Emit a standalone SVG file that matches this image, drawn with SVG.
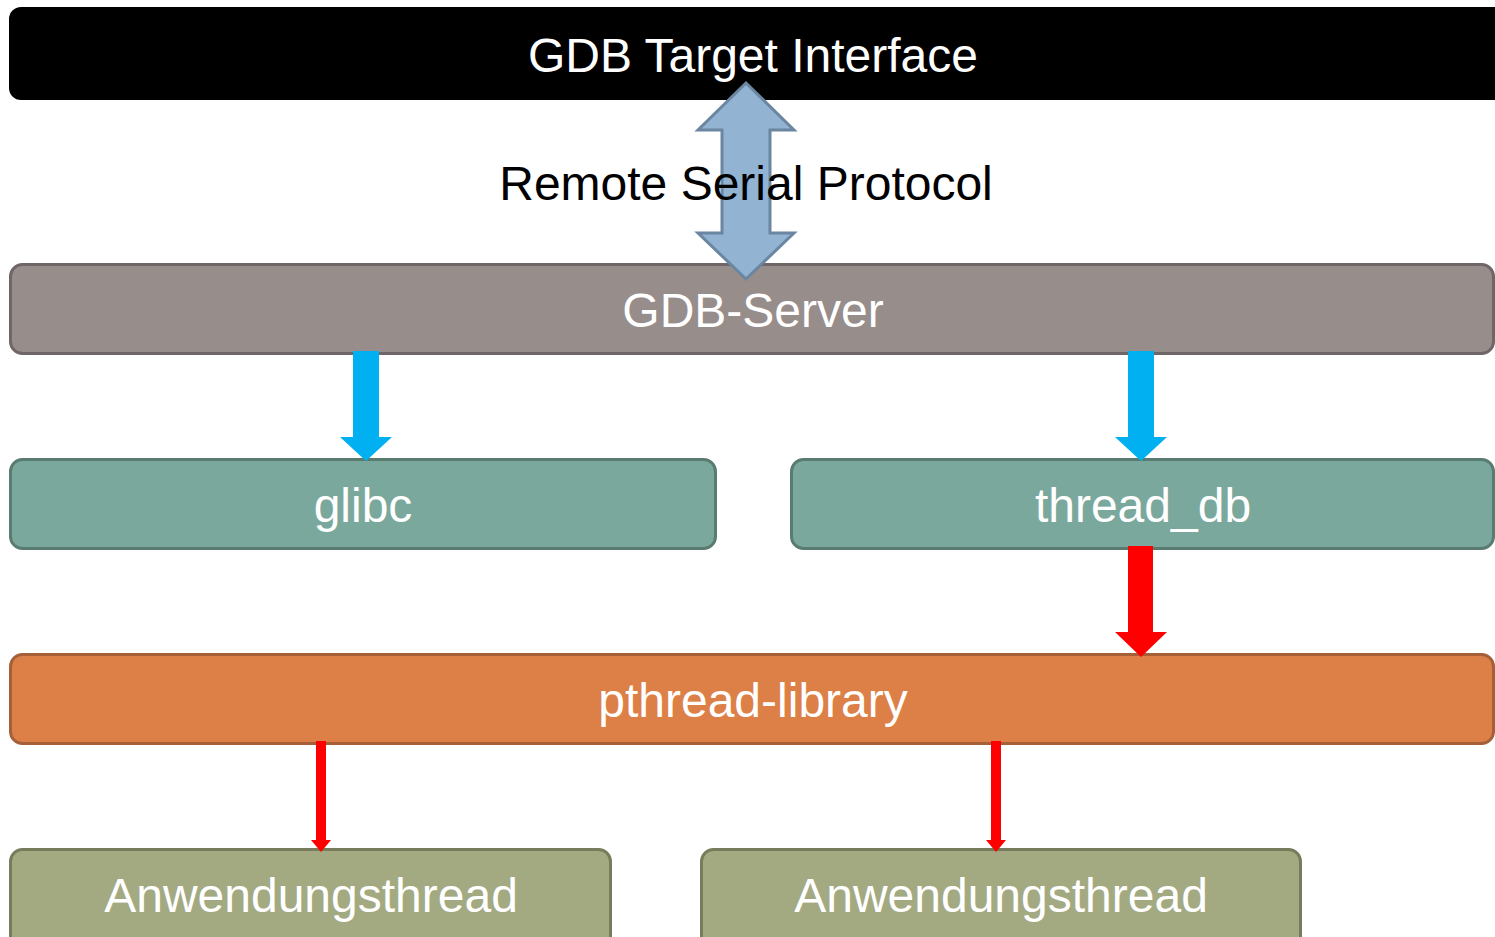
<svg xmlns="http://www.w3.org/2000/svg" width="1495" height="937" viewBox="0 0 1495 937">
<style>
text{font-family:"Liberation Sans",Arial,sans-serif;font-size:48px;text-anchor:middle}
.w{fill:#ffffff}
.box{stroke-width:3}
</style>
<rect width="1495" height="937" fill="#ffffff"/>
<g id="gdb-target">
<rect x="9" y="7" width="1500" height="93" rx="12" fill="#000000"/>
<text class="w" x="753" y="72">GDB Target Interface</text>
</g>
<g id="gdb-server">
<rect class="box" x="10.5" y="264.5" width="1483" height="89" rx="12" fill="#978d8b" stroke="#6e6667"/>
<text class="w" x="753" y="327">GDB-Server</text>
</g>
<g id="glibc">
<rect class="box" x="10.5" y="459.5" width="705" height="89" rx="12" fill="#7ba89c" stroke="#5a7b70"/>
<text class="w" x="363" y="522">glibc</text>
</g>
<g id="thread_db">
<rect class="box" x="791.5" y="459.5" width="702" height="89" rx="12" fill="#7ba89c" stroke="#5a7b70"/>
<text class="w" x="1143" y="522">thread_db</text>
</g>
<g id="pthread-library">
<rect class="box" x="10.5" y="654.5" width="1483" height="89" rx="12" fill="#dd8047" stroke="#a5603a"/>
<text class="w" x="753" y="717">pthread-library</text>
</g>
<g id="anwendungsthread-1">
<rect class="box" x="10.5" y="849.5" width="600" height="100" rx="12" fill="#a3aa82" stroke="#787c5c"/>
<text class="w" x="311" y="912">Anwendungsthread</text>
</g>
<g id="anwendungsthread-2">
<rect class="box" x="701.5" y="849.5" width="599" height="100" rx="12" fill="#a3aa82" stroke="#787c5c"/>
<text class="w" x="1001" y="912">Anwendungsthread</text>
</g>
<g id="connectors">
<path d="M746 83 L794 130 L770 130 L770 233 L794 233 L746 279 L698 233 L722 233 L722 130 L698 130 Z" fill="#93b3d3" stroke="#6a86a0" stroke-width="3" stroke-linejoin="miter"/>
<text x="746" y="200" fill="#000000">Remote Serial Protocol</text>
<path d="M353 351 L379 351 L379 437 L392 437 L366 461 L340 437 L353 437 Z" fill="#00b0f0"/>
<path d="M1128 351 L1154 351 L1154 437 L1167 437 L1141 461 L1115 437 L1128 437 Z" fill="#00b0f0"/>
<path d="M1128 546 L1153 546 L1153 632 L1167 632 L1141 657 L1115 632 L1128 632 Z" fill="#ff0000"/>
<path d="M316 741 L326 741 L326 840 L331 840 L321 852 L311 840 L316 840 Z" fill="#ff0000"/>
<path d="M991 741 L1001 741 L1001 840 L1006 840 L996 852 L986 840 L991 840 Z" fill="#ff0000"/>
</g>
</svg>
